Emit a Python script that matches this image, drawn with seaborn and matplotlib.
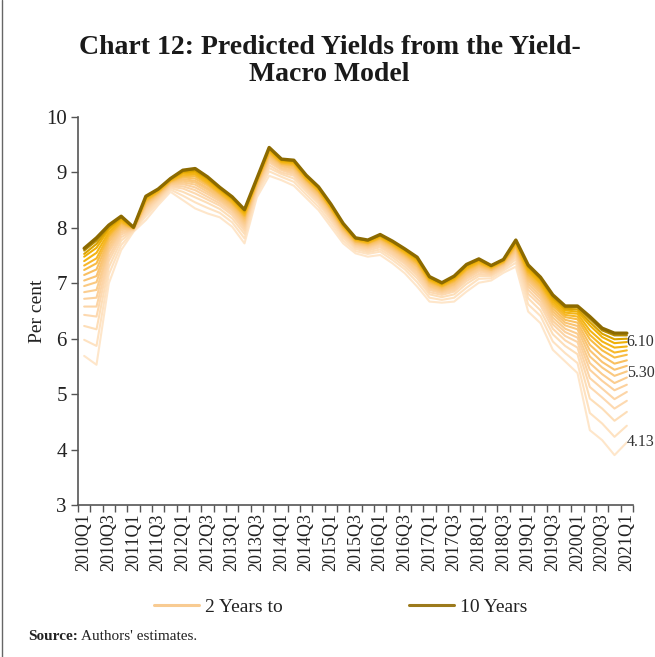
import numpy as np
import pandas as pd
import matplotlib
matplotlib.use("Agg")
import matplotlib.pyplot as plt
from matplotlib.lines import Line2D
from matplotlib.colors import LinearSegmentedColormap
import seaborn as sns

# Quarters 2010Q1 .. 2021Q1
quarters = [f"{y}Q{q}" for y in range(2010, 2022) for q in range(1, 5)][:45]

# Predicted yields (per cent) by residual maturity, 2 to 10 years in half-year steps
y2 = [5.69, 5.53, 7.00, 7.60, 7.93, 8.14, 8.41, 8.65, 8.50, 8.35, 8.26, 8.19, 8.02, 7.72, 8.55,
      8.94, 8.86, 8.76, 8.54, 8.32, 8.02, 7.72, 7.54, 7.48, 7.51, 7.36, 7.18, 6.94, 6.67, 6.65,
      6.67, 6.85, 7.01, 7.05, 7.19, 7.30, 6.49, 6.28, 5.80, 5.59, 5.38, 4.35, 4.17, 3.90, 4.13]
y2_5 = [5.98, 5.87, 7.16, 7.69, 7.94, 8.21, 8.45, 8.69, 8.58, 8.46, 8.36, 8.27, 8.10, 7.81, 8.60,
        9.02, 8.92, 8.83, 8.60, 8.38, 8.08, 7.77, 7.58, 7.53, 7.57, 7.42, 7.25, 7.02, 6.74, 6.70,
        6.74, 6.92, 7.08, 7.09, 7.23, 7.37, 6.62, 6.41, 5.95, 5.74, 5.56, 4.66, 4.47, 4.23, 4.43]
y3 = [6.23, 6.17, 7.29, 7.77, 7.95, 8.26, 8.49, 8.72, 8.65, 8.55, 8.45, 8.34, 8.17, 7.89, 8.65,
      9.08, 8.97, 8.89, 8.66, 8.44, 8.14, 7.82, 7.62, 7.56, 7.61, 7.47, 7.30, 7.09, 6.80, 6.75,
      6.80, 6.99, 7.13, 7.13, 7.26, 7.43, 6.73, 6.51, 6.08, 5.87, 5.72, 4.92, 4.74, 4.52, 4.68]
y3_5 = [6.43, 6.40, 7.40, 7.83, 7.96, 8.30, 8.52, 8.74, 8.71, 8.62, 8.51, 8.40, 8.23, 7.95, 8.68,
        9.13, 9.00, 8.94, 8.70, 8.48, 8.18, 7.86, 7.65, 7.59, 7.65, 7.51, 7.35, 7.14, 6.84, 6.79,
        6.85, 7.04, 7.17, 7.15, 7.28, 7.48, 6.81, 6.60, 6.18, 5.97, 5.84, 5.13, 4.94, 4.74, 4.88]
y4 = [6.58, 6.58, 7.48, 7.88, 7.97, 8.34, 8.54, 8.76, 8.75, 8.68, 8.56, 8.44, 8.27, 8.00, 8.71,
      9.18, 9.04, 8.97, 8.73, 8.51, 8.21, 7.89, 7.67, 7.62, 7.68, 7.54, 7.38, 7.18, 6.88, 6.82,
      6.88, 7.08, 7.21, 7.17, 7.30, 7.52, 6.88, 6.66, 6.26, 6.05, 5.94, 5.29, 5.10, 4.91, 5.04]
y4_5 = [6.72, 6.74, 7.56, 7.92, 7.97, 8.37, 8.56, 8.78, 8.79, 8.73, 8.61, 8.48, 8.31, 8.04, 8.73,
        9.21, 9.06, 9.00, 8.76, 8.54, 8.24, 7.91, 7.69, 7.64, 7.71, 7.57, 7.41, 7.22, 6.91, 6.84,
        6.91, 7.11, 7.24, 7.19, 7.32, 7.55, 6.94, 6.72, 6.32, 6.12, 6.02, 5.44, 5.24, 5.07, 5.17]
y5 = [6.84, 6.88, 7.62, 7.96, 7.98, 8.39, 8.58, 8.79, 8.82, 8.78, 8.65, 8.51, 8.34, 8.08, 8.75,
      9.24, 9.08, 9.03, 8.78, 8.57, 8.26, 7.93, 7.71, 7.66, 7.73, 7.60, 7.44, 7.25, 6.94, 6.86,
      6.94, 7.14, 7.26, 7.21, 7.33, 7.58, 6.99, 6.77, 6.38, 6.18, 6.09, 5.56, 5.36, 5.20, 5.30]
y5_5 = [6.95, 7.02, 7.68, 8.00, 7.98, 8.42, 8.60, 8.81, 8.85, 8.82, 8.69, 8.54, 8.37, 8.12, 8.77,
        9.27, 9.11, 9.06, 8.81, 8.59, 8.29, 7.95, 7.72, 7.68, 7.75, 7.62, 7.47, 7.29, 6.96, 6.88,
        6.97, 7.17, 7.29, 7.23, 7.35, 7.61, 7.04, 6.82, 6.44, 6.24, 6.17, 5.68, 5.48, 5.33, 5.41]
y6 = [7.05, 7.13, 7.74, 8.03, 7.99, 8.44, 8.61, 8.82, 8.88, 8.85, 8.72, 8.57, 8.40, 8.15, 8.79,
      9.30, 9.13, 9.08, 8.83, 8.61, 8.31, 7.97, 7.74, 7.69, 7.77, 7.64, 7.49, 7.31, 6.99, 6.90,
      6.99, 7.19, 7.31, 7.24, 7.36, 7.64, 7.08, 6.86, 6.49, 6.29, 6.23, 5.79, 5.58, 5.44, 5.51]
y6_5 = [7.15, 7.25, 7.79, 8.06, 7.99, 8.46, 8.63, 8.83, 8.91, 8.89, 8.76, 8.60, 8.43, 8.18, 8.81,
        9.32, 9.15, 9.11, 8.85, 8.64, 8.33, 7.99, 7.75, 7.71, 7.79, 7.66, 7.51, 7.34, 7.01, 6.92,
        7.02, 7.22, 7.33, 7.25, 7.37, 7.66, 7.12, 6.90, 6.54, 6.34, 6.29, 5.89, 5.69, 5.55, 5.61]
y7 = [7.24, 7.36, 7.84, 8.09, 7.99, 8.48, 8.64, 8.84, 8.93, 8.93, 8.79, 8.62, 8.45, 8.21, 8.82,
      9.35, 9.16, 9.13, 8.87, 8.66, 8.35, 8.01, 7.76, 7.72, 7.81, 7.68, 7.53, 7.36, 7.03, 6.94,
      7.04, 7.24, 7.35, 7.27, 7.38, 7.68, 7.16, 6.94, 6.59, 6.39, 6.35, 5.99, 5.79, 5.66, 5.71]
y7_5 = [7.32, 7.45, 7.88, 8.11, 8.00, 8.50, 8.65, 8.85, 8.95, 8.96, 8.81, 8.64, 8.47, 8.23, 8.84,
        9.37, 9.18, 9.15, 8.88, 8.67, 8.36, 8.02, 7.78, 7.73, 7.82, 7.70, 7.55, 7.39, 7.05, 6.95,
        7.06, 7.26, 7.37, 7.28, 7.39, 7.70, 7.20, 6.98, 6.63, 6.43, 6.40, 6.07, 5.87, 5.75, 5.79]
y8 = [7.40, 7.55, 7.92, 8.14, 8.00, 8.52, 8.67, 8.86, 8.98, 8.98, 8.84, 8.67, 8.50, 8.26, 8.85,
      9.39, 9.19, 9.17, 8.90, 8.69, 8.38, 8.04, 7.79, 7.74, 7.84, 7.71, 7.57, 7.41, 7.07, 6.97,
      7.08, 7.28, 7.39, 7.29, 7.40, 7.72, 7.23, 7.01, 6.67, 6.47, 6.45, 6.15, 5.95, 5.84, 5.86]
y8_5 = [7.48, 7.64, 7.97, 8.16, 8.00, 8.54, 8.68, 8.87, 9.00, 9.01, 8.87, 8.69, 8.52, 8.28, 8.86,
        9.41, 9.21, 9.18, 8.92, 8.71, 8.40, 8.05, 7.80, 7.76, 7.85, 7.73, 7.59, 7.43, 7.08, 6.98,
        7.09, 7.30, 7.41, 7.30, 7.41, 7.74, 7.26, 7.04, 6.71, 6.51, 6.49, 6.24, 6.03, 5.92, 5.94]
y9 = [7.53, 7.71, 8.00, 8.18, 8.01, 8.55, 8.69, 8.88, 9.01, 9.03, 8.89, 8.70, 8.53, 8.30, 8.87,
      9.43, 9.22, 9.20, 8.93, 8.72, 8.41, 8.06, 7.81, 7.77, 7.86, 7.74, 7.60, 7.44, 7.10, 6.99,
      7.11, 7.32, 7.42, 7.31, 7.42, 7.76, 7.29, 7.07, 6.74, 6.54, 6.53, 6.30, 6.09, 5.99, 6.00]
y9_5 = [7.59, 7.77, 8.03, 8.20, 8.01, 8.56, 8.69, 8.89, 9.03, 9.06, 8.91, 8.72, 8.55, 8.32, 8.88,
        9.44, 9.23, 9.21, 8.94, 8.73, 8.42, 8.07, 7.81, 7.77, 7.87, 7.75, 7.61, 7.46, 7.11, 7.00,
        7.12, 7.33, 7.43, 7.32, 7.43, 7.77, 7.31, 7.09, 6.77, 6.57, 6.57, 6.36, 6.15, 6.06, 6.06]
y10 = [7.63, 7.82, 8.05, 8.21, 8.01, 8.57, 8.70, 8.89, 9.04, 9.07, 8.92, 8.73, 8.56, 8.33, 8.89,
       9.45, 9.24, 9.22, 8.95, 8.74, 8.43, 8.08, 7.82, 7.78, 7.88, 7.76, 7.62, 7.47, 7.12, 7.01,
       7.13, 7.34, 7.44, 7.32, 7.43, 7.78, 7.33, 7.11, 6.79, 6.59, 6.59, 6.40, 6.19, 6.10, 6.10]

maturities = [2, 2.5, 3, 3.5, 4, 4.5, 5, 5.5, 6, 6.5, 7, 7.5, 8, 8.5, 9, 9.5, 10]
series = [y2, y2_5, y3, y3_5, y4, y4_5, y5, y5_5, y6, y6_5, y7, y7_5, y8, y8_5, y9, y9_5, y10]

# End-of-sample values shown next to the curves
end_labels = [("6.10", 6.10, -6), ("5.30", 5.30, 3), ("4.13", 4.13, 0)]

df = pd.DataFrame({
    "t": np.tile(np.arange(len(quarters)), len(maturities)),
    "yield": np.concatenate([np.asarray(s) for s in series]),
    "maturity": np.repeat(maturities, len(quarters)),
})

# Peach -> gold -> dark olive gradient across maturities
cmap = LinearSegmentedColormap.from_list(
    "yld", [(0.0, "#FEE6CA"), (0.3, "#FCD2A0"), (0.55, "#F9C168"),
            (0.72, "#F6B61C"), (0.85, "#EBAE00"), (0.94, "#B88C00"), (1.0, "#8C6A00")])
palette = [cmap(i / (len(maturities) - 1)) for i in range(len(maturities))]

sns.set_style("white")
plt.rcParams["font.family"] = ["Liberation Serif", "DejaVu Serif"]

fig = plt.figure(figsize=(6.55, 6.57), dpi=100)
ax = fig.add_axes([78 / 655, 1 - 505 / 657, (633 - 78) / 655, (505 - 117) / 657])

for m, c in zip(maturities, palette):
    sub = df[df["maturity"] == m]
    sns.lineplot(data=sub, x="t", y="yield", ax=ax, color=c,
                 linewidth=2.4 if m == 10 else 1.5, legend=False)

ax.set_xlim(-0.5, len(quarters) - 0.5)
ax.set_ylim(3, 10)
ax.set_yticks(range(3, 11))
ax.set_xticks(range(0, len(quarters), 2))
ax.set_xticklabels(quarters[::2], rotation=90)
ax.set_xticks(np.arange(-0.5, len(quarters), 1.0), minor=True)
ax.set_xlabel("")
ax.set_ylabel("")

for s in ["top", "right"]:
    ax.spines[s].set_visible(False)
for s in ["left", "bottom"]:
    ax.spines[s].set_color("#555555")
    ax.spines[s].set_linewidth(1.2)

ax.tick_params(axis="y", which="major", direction="out", length=5, width=1,
               color="#555555", labelsize=15, labelcolor="#222222", pad=3, left=True)
ax.tick_params(axis="x", which="major", length=0, labelsize=13,
               labelcolor="#222222", pad=6, bottom=True)
ax.tick_params(axis="x", which="minor", direction="out", length=5, width=1,
               color="#555555", bottom=True)

for txt, val, dy in end_labels:
    ax.annotate(txt, xy=(len(quarters) - 1, val), xytext=(0, dy),
                textcoords="offset points", ha="left", va="center",
                fontsize=11.5, color="#333333", annotation_clip=False)

fig.text(0.503, 1 - 61 / 657, "Chart 12: Predicted Yields from the Yield-\nMacro Model",
         ha="center", va="center", fontsize=20, fontweight="bold",
         color="#1a1a1a", linespacing=1.1)

fig.text(38 / 655, 1 - 311 / 657, "Per cent", rotation=90, ha="center", va="center",
         fontsize=14, color="#222222")

handles = [Line2D([], [], color="#F8CB92", lw=2.2),
           Line2D([], [], color="#9C7A1C", lw=2.2)]
fig.legend(handles, ["2 Years to", "10 Years"], loc="center",
           bbox_to_anchor=(0.52, 1 - 607 / 657), ncol=2, frameon=False,
           fontsize=14, handlelength=2.3, handletextpad=0.3, columnspacing=6.5,
           labelcolor="#222222")

src = fig.text(28 / 655, 1 - 637 / 657, "Source:", ha="left", va="center",
               fontsize=11, fontweight="bold", color="#222222")
ax.annotate(" Authors' estimates.", xy=(1, 0.5), xycoords=src, ha="left", va="center",
            fontsize=11, color="#222222", annotation_clip=False)

fig.add_artist(Line2D([2 / 655, 2 / 655], [0, 1], transform=fig.transFigure,
                      color="#666666", lw=1))

fig.savefig("out.png", dpi=100)
